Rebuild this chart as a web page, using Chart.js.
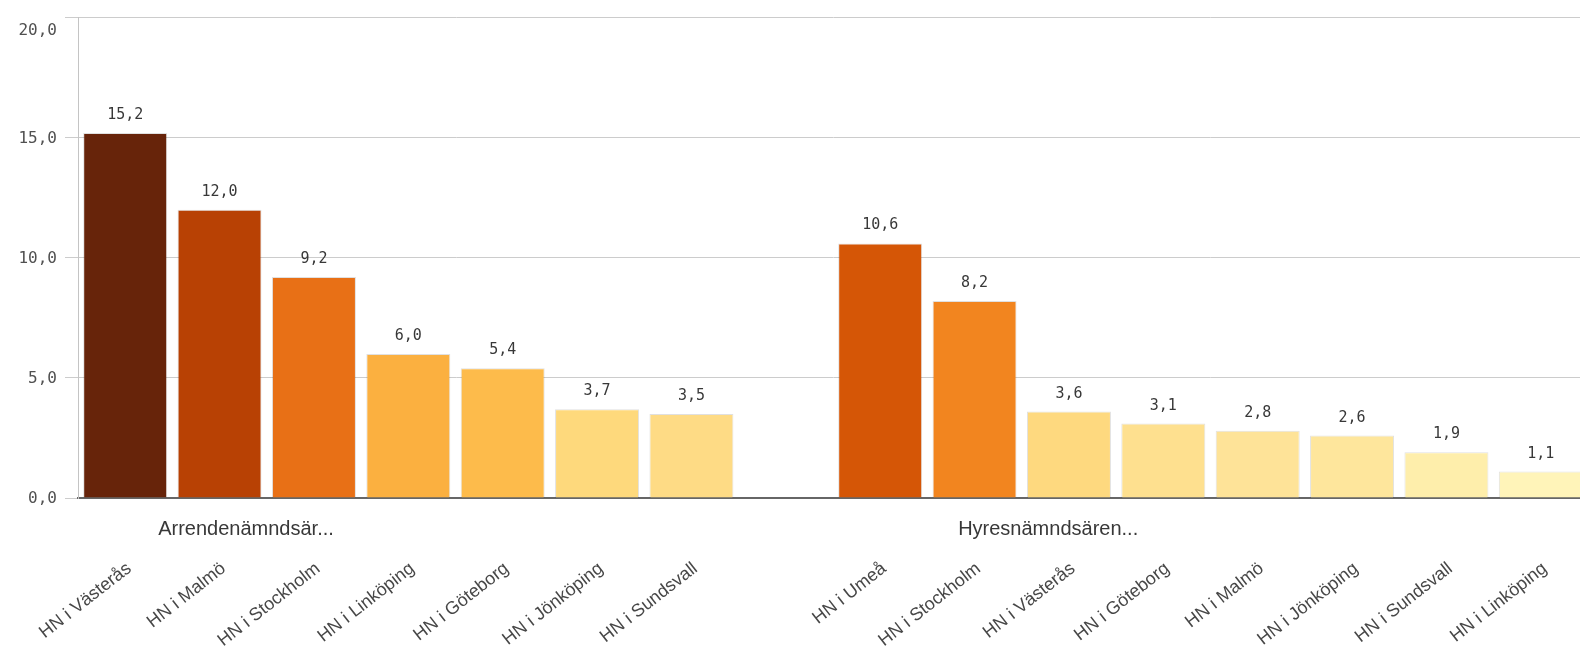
<!DOCTYPE html>
<html lang="sv">
<head>
<meta charset="UTF-8">
<title>Ärenden per hyresnämnd</title>
<script src="https://cdn.jsdelivr.net/npm/chart.js"></script>
<style>
  html, body { margin: 0; padding: 0; background: #fff; overflow: hidden; }
  #wrap { width: 1588px; height: 660px; }
</style>
</head>
<body>
<div id="wrap"><canvas id="chart" width="1588" height="660"></canvas></div>
<script>
// data
const groups = ['Arrendenämndsär...', 'Hyresnämndsären...'];
const arrendeNames = ['HN i Västerås', 'HN i Malmö', 'HN i Stockholm', 'HN i Linköping', 'HN i Göteborg', 'HN i Jönköping', 'HN i Sundsvall'];
const arrendeValues = [15.2, 12.0, 9.2, 6.0, 5.4, 3.7, 3.5];
const hyresNames = ['HN i Umeå', 'HN i Stockholm', 'HN i Västerås', 'HN i Göteborg', 'HN i Malmö', 'HN i Jönköping', 'HN i Sundsvall', 'HN i Linköping'];
const hyresValues = [10.6, 8.2, 3.6, 3.1, 2.8, 2.6, 1.9, 1.1];
const yTicks = [0, 5, 10, 15, 20];

const arrendeColors = ['#67240a', '#b84104', '#e87016', '#fbb040', '#fdbb4b', '#fed97c', '#fedb85'];
const hyresColors = ['#d55606', '#f2851f', '#fed97f', '#fee08f', '#fee398', '#fee69c', '#feeeab', '#fff4b9'];

// one empty slot between the two groups
const labels = [...arrendeNames, '', ...hyresNames];
const values = [...arrendeValues, null, ...hyresValues];
const colors = [...arrendeColors, 'transparent', ...hyresColors];

const yMax = yTicks[yTicks.length - 1];
const fmt = v => v.toFixed(1).replace('.', ',');
const tickFont = '16px "DejaVu Sans Mono"';

const valueLabels = {
    id: 'valueLabels',
    afterDatasetsDraw(chart) {
        const ctx = chart.ctx;
        const meta = chart.getDatasetMeta(0);
        ctx.save();
        ctx.font = '15px "DejaVu Sans Mono"';
        ctx.fillStyle = '#383838';
        ctx.textAlign = 'center';
        ctx.textBaseline = 'alphabetic';
        meta.data.forEach((bar, i) => {
            if (values[i] === null) return;
            ctx.fillText(fmt(values[i]), bar.x, bar.y - 14);
        });
        ctx.restore();
    }
};

// group captions under the axis, and the top y label kept inside the canvas
const extraText = {
    id: 'extraText',
    afterDraw(chart) {
        const ctx = chart.ctx;
        const x = chart.scales.x;
        const y = chart.scales.y;
        const at = [1.28, 9.78];
        ctx.save();
        ctx.font = '20px "Liberation Sans"';
        ctx.fillStyle = '#383838';
        ctx.textAlign = 'center';
        ctx.textBaseline = 'alphabetic';
        groups.forEach((g, i) => {
            ctx.fillText(g, x.getPixelForValue(at[i]), chart.chartArea.bottom + 37);
        });
        ctx.font = tickFont;
        ctx.fillStyle = '#505050';
        ctx.textAlign = 'right';
        ctx.textBaseline = 'middle';
        ctx.fillText(fmt(yMax), y.right - 13 - 8, y.getPixelForValue(yMax) + 13);
        ctx.restore();
    }
};

new Chart(document.getElementById('chart'), {
    type: 'bar',
    data: {
        labels: labels,
        datasets: [{
            data: values,
            backgroundColor: colors,
            borderColor: 'rgba(0,0,0,0.12)',
            borderWidth: 1,
            barPercentage: 0.89,
            categoryPercentage: 1.0
        }]
    },
    options: {
        responsive: false,
        animation: false,
        layout: { padding: { top: 14, left: 0, right: 0, bottom: 0 } },
        plugins: { legend: { display: false }, tooltip: { enabled: false } },
        scales: {
            x: {
                grid: { display: false, drawTicks: false },
                border: { display: true, color: '#666666', width: 2 },
                ticks: {
                    autoSkip: false,
                    minRotation: 38,
                    maxRotation: 38,
                    padding: 60,
                    labelOffset: 4,
                    color: '#474747',
                    font: { family: 'Liberation Sans', size: 18 }
                },
                afterFit(scale) {
                    scale.height = 162;
                    scale.paddingLeft = 0;
                    scale.paddingRight = 0;
                }
            },
            y: {
                min: 0,
                max: yMax,
                afterBuildTicks(scale) { scale.ticks = yTicks.map(v => ({ value: v })); },
                grid: {
                    color: c => c.tick && c.tick.value === 0 ? 'transparent' : '#cccccc',
                    tickColor: '#cccccc',
                    tickLength: 13,
                    drawTicks: true
                },
                border: { display: true, color: '#c4c4c4', width: 1 },
                ticks: {
                    padding: 8,
                    labelOffset: 1,
                    color: '#505050',
                    font: { family: 'DejaVu Sans Mono', size: 16 },
                    callback: v => v === yMax ? '' : fmt(v)
                },
                afterFit(scale) { scale.width = 78; }
            }
        }
    },
    plugins: [valueLabels, extraText]
});
</script>
</body>
</html>
